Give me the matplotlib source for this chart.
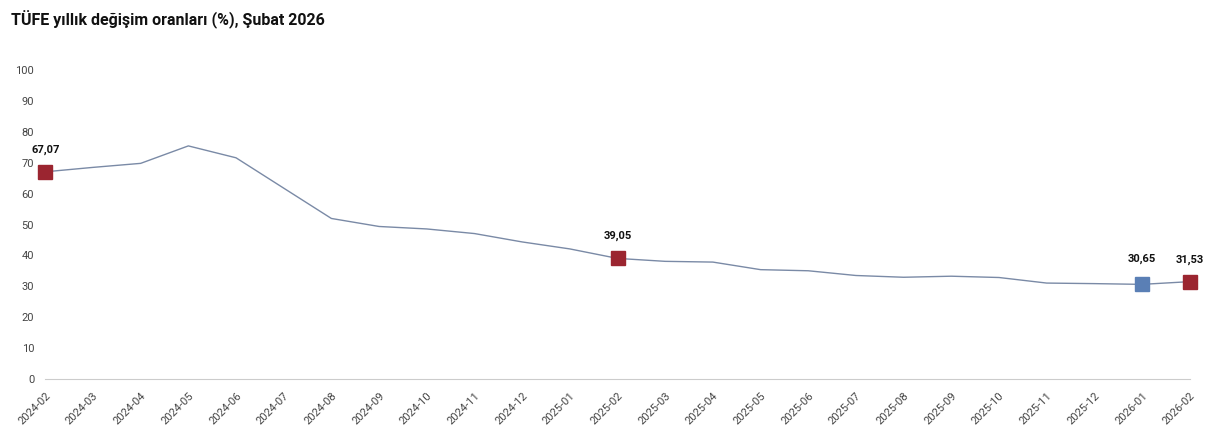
import matplotlib.pyplot as plt

months = ["2024-02", "2024-03", "2024-04", "2024-05", "2024-06", "2024-07", "2024-08",
          "2024-09", "2024-10", "2024-11", "2024-12", "2025-01", "2025-02", "2025-03",
          "2025-04", "2025-05", "2025-06", "2025-07", "2025-08", "2025-09", "2025-10",
          "2025-11", "2025-12", "2026-01", "2026-02"]
values = [67.07, 68.50, 69.80, 75.45, 71.60, 61.78, 51.97, 49.38, 48.58, 47.09, 44.38,
          42.12, 39.05, 38.10, 37.86, 35.41, 35.05, 33.52, 32.95, 33.29, 32.87, 31.07,
          30.89, 30.65, 31.53]
red_idx = [0, 12, 24]
blue_idx = [23]

LINE = "#7a8aa6"
RED = "#9b2530"
BLUE = "#5a7fb5"

plt.rcParams["font.family"] = ["Roboto", "DejaVu Sans"]
fig = plt.figure(figsize=(12.24, 4.46), dpi=100)
ax = fig.add_axes([0.037, 0.150, 0.935, 0.693])
x = list(range(len(months)))
ax.plot(x, values, color=LINE, lw=1, zorder=2)
for i in red_idx:
    ax.plot(i, values[i], marker="s", ms=10, color=RED, zorder=3, clip_on=False)
    ax.text(i, values[i] + 5.5, f"{values[i]:.2f}".replace(".", ","), ha="center",
            va="bottom", fontsize=8, fontweight="bold", color="#111111")
for i in blue_idx:
    ax.plot(i, values[i], marker="s", ms=10, color=BLUE, zorder=3, clip_on=False)
    ax.text(i, values[i] + 6.5, f"{values[i]:.2f}".replace(".", ","), ha="center",
            va="bottom", fontsize=8, fontweight="bold", color="#111111")

ax.set_xlim(0, len(months) - 1)
ax.set_ylim(0, 100)
ax.set_yticks(range(0, 101, 10))
ax.set_xticks(x)
ax.set_xticklabels(months, rotation=45, ha="right", rotation_mode="anchor")
ax.tick_params(axis="both", length=0, labelsize=8, colors="#444444", pad=8)
for s in ("top", "right", "left"):
    ax.spines[s].set_visible(False)
ax.spines["bottom"].set_color("#cccccc")
fig.text(0.009, 0.955, "TÜFE yıllık değişim oranları (%), Şubat 2026", fontsize=11.5,
         fontweight="bold", color="#111111", va="center")
fig.savefig("out.png")
